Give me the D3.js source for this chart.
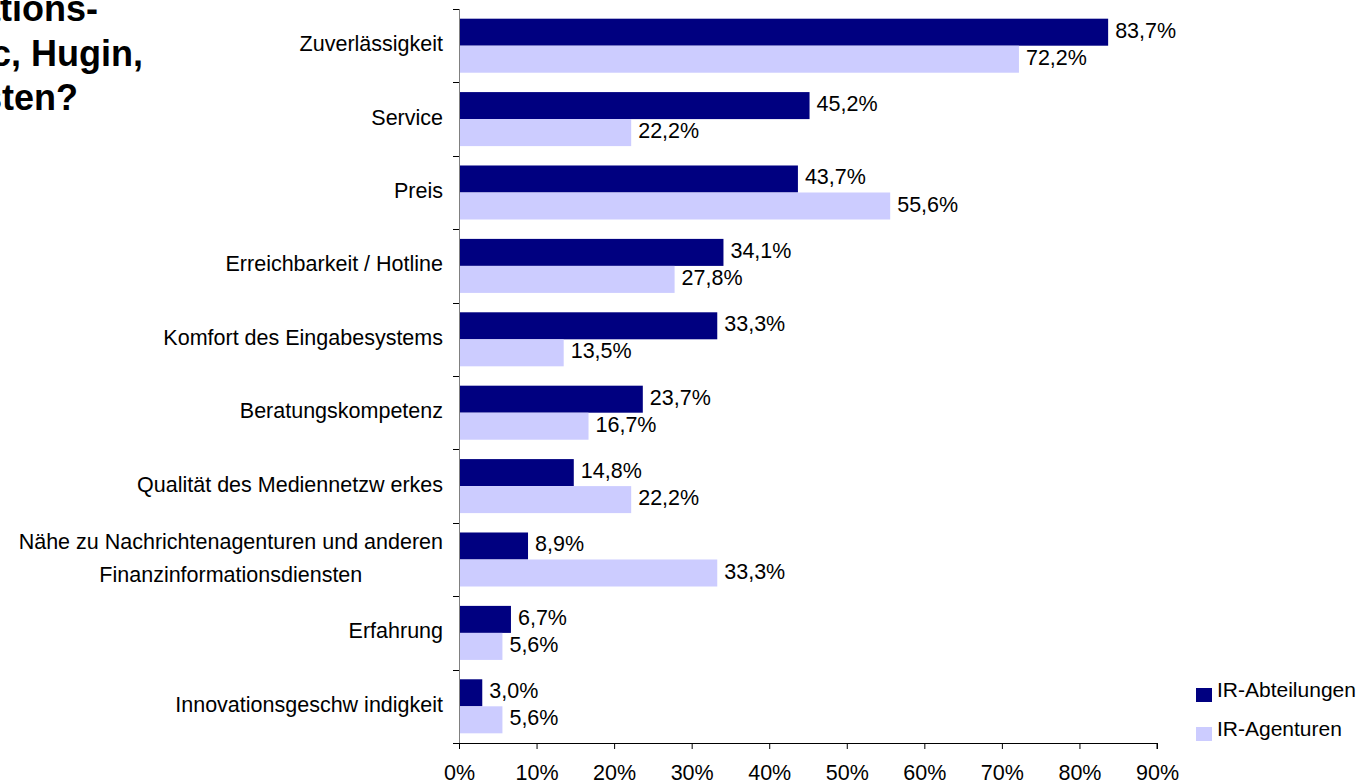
<!DOCTYPE html>
<html>
<head>
<meta charset="utf-8">
<script src="https://cdn.jsdelivr.net/npm/d3@7"></script>
<style>
  body { margin: 0; background: #fff; }
  svg { display: block; font-family: "Liberation Sans", Arial, sans-serif; }
</style>
</head>
<body>
<svg id="chart" width="1360" height="784"></svg>
<script>
//chart data
const categories = [
    "Zuverlässigkeit",
    "Service",
    "Preis",
    "Erreichbarkeit / Hotline",
    "Komfort des Eingabesystems",
    "Beratungskompetenz",
    "Qualität des Mediennetzw erkes",
    "Nähe zu Nachrichtenagenturen und anderen\nFinanzinformationsdiensten",
    "Erfahrung",
    "Innovationsgeschw indigkeit"
];
const seriesNames = ["IR-Abteilungen", "IR-Agenturen"];
const abteilungen = [83.7, 45.2, 43.7, 34.1, 33.3, 23.7, 14.8, 8.9, 6.7, 3.0];
const agenturen = [72.2, 22.2, 55.6, 27.8, 13.5, 16.7, 22.2, 33.3, 5.6, 5.6];
const xTicks = [0, 10, 20, 30, 40, 50, 60, 70, 80, 90];
const titleLines = ["Informations-", "euro adhoc, Hugin,", "am wichtigsten?"];

const colors = ["#000080", "#ccccff"];
const svg = d3.select("#chart");

//scales
const x = d3.scaleLinear().domain([0, 90]).range([459, 1157]);
const y = d3.scaleBand().domain(categories).range([9, 743])
    .paddingInner(0.264).paddingOuter(0.132);
const ySub = d3.scaleBand().domain(seriesNames).range([0, y.bandwidth()]);

const rows = categories.map((c, i) => ({ cat: c, values: [abteilungen[i], agenturen[i]] }));

//title, cut off at the left edge like the original
svg.append("g").selectAll("text")
    .data(titleLines)
    .enter().append("text")
    .attr("x", (d, i) => [98, 143, 78][i])
    .attr("y", (d, i) => 21 + i * 44.5)
    .attr("text-anchor", "end")
    .style("font-size", "36px")
    .style("font-weight", "bold")
    .text(d => d);

//bars
const groups = svg.append("g").selectAll("g")
    .data(rows)
    .enter().append("g")
    .attr("transform", d => `translate(0,${y(d.cat)})`);

groups.selectAll("rect")
    .data(d => d.values.map((v, k) => ({ v, name: seriesNames[k], k })))
    .enter().append("rect")
    .attr("x", x(0))
    .attr("y", d => ySub(d.name))
    .attr("width", d => x(d.v) - x(0))
    .attr("height", ySub.bandwidth())
    .attr("fill", d => colors[d.k]);

groups.selectAll("text")
    .data(d => d.values.map((v, k) => ({ v, name: seriesNames[k] })))
    .enter().append("text")
    .attr("x", d => x(d.v) + 7)
    .attr("y", d => ySub(d.name) + ySub.bandwidth() / 2 - 1.5)
    .attr("dominant-baseline", "central")
    .style("font-size", "21.5px")
    .text(d => d.v.toFixed(1).replace(".", ",") + "%");

//category labels, multi-line ones are centred under the first line
const labels = svg.append("g").selectAll("text")
    .data(categories)
    .enter().append("text")
    .attr("transform", d => `translate(443,${y(d) + y.bandwidth() / 2 - 1.5})`)
    .style("font-size", "21.5px");

labels.each(function (d) {
    const lines = d.split("\n");
    const lh = 33;
    const t = d3.select(this);
    if (lines.length === 1) {
        t.attr("text-anchor", "end").attr("dominant-baseline", "central").text(d);
        return;
    }
    const spans = t.attr("text-anchor", "middle").selectAll("tspan")
        .data(lines)
        .enter().append("tspan")
        .attr("y", (l, i) => (i - (lines.length - 1) / 2) * lh)
        .attr("dominant-baseline", "central")
        .text(l => l);
    const w = spans.node().getComputedTextLength();
    spans.attr("x", -w / 2);
});

//y axis: ticks sit between the categories
const step = y.step();
const yTop = y.range()[0];
const bounds = d3.range(categories.length + 1).map(i => yTop + i * step);
svg.append("line")
    .attr("x1", x(0) + 0.5).attr("x2", x(0) + 0.5)
    .attr("y1", yTop).attr("y2", 743)
    .attr("stroke", "#808080");
svg.append("g").selectAll("line")
    .data(bounds)
    .enter().append("line")
    .attr("x1", x(0) - 6).attr("x2", x(0))
    .attr("y1", d => Math.round(d) + 0.5).attr("y2", d => Math.round(d) + 0.5)
    .attr("stroke", "#000");

//x axis
const xAxis = svg.append("g")
    .attr("transform", "translate(0,743)")
    .call(d3.axisBottom(x).tickValues(xTicks).tickSize(6).tickPadding(16)
        .tickFormat(d => d + "%"));
xAxis.select(".domain").attr("d", `M${x(0)},0.5H${x(90)}V6`);
xAxis.selectAll("text").style("font-size", "21.5px").style("font-family", "Liberation Sans, Arial, sans-serif");

//legend
const legend = svg.append("g").selectAll("g")
    .data(seriesNames)
    .enter().append("g")
    .attr("transform", (d, i) => `translate(1196,${688 + i * 39})`);
legend.append("rect")
    .attr("width", 16).attr("height", 14)
    .attr("fill", (d, i) => colors[i]);
legend.append("text")
    .attr("x", 21)
    .attr("y", 1)
    .attr("dominant-baseline", "central")
    .style("font-size", "21px")
    .text(d => d);
</script>
</body>
</html>
